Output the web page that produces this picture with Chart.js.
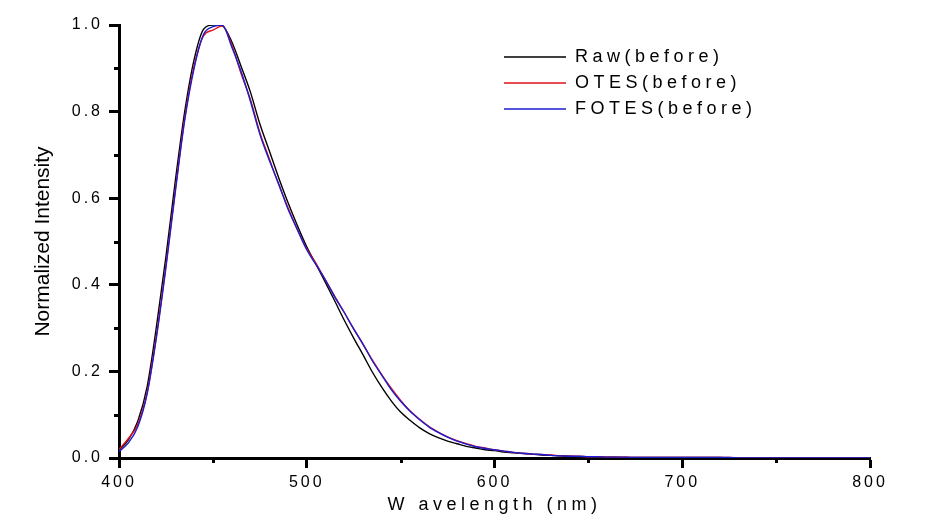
<!DOCTYPE html>
<html>
<head>
<meta charset="utf-8">
<script src="https://cdn.jsdelivr.net/npm/chart.js@4"></script>
<style>
  html, body { margin: 0; padding: 0; background: #fff; }
  #wrap { width: 928px; height: 532px; }
</style>
</head>
<body>
<div id="wrap"><canvas id="spectrum" width="928" height="532"></canvas></div>
<script>
// wavelength (nm)
const wavelengths = [400, 405, 410, 415, 420, 425, 430, 435, 440, 445, 450, 455, 460, 465, 470, 475, 480, 485, 490, 495,
    500, 505, 510, 515, 520, 525, 530, 535, 540, 545, 550, 555, 560, 565, 570, 575, 580, 585, 590, 595,
    600, 605, 610, 615, 620, 625, 630, 635, 640, 645, 650, 655, 660, 665, 670, 675, 680, 685, 690, 695,
    700, 705, 710, 715, 720, 725, 730, 735, 740, 745, 750, 755, 760, 765, 770, 775, 780, 785, 790, 795, 800];

// normalized intensity
const rawBefore = [0.018, 0.042, 0.085, 0.165, 0.305, 0.465, 0.640, 0.800, 0.920, 0.990, 1.000, 0.998, 0.962, 0.905, 0.845, 0.772, 0.710, 0.648, 0.590, 0.537,
    0.488, 0.447, 0.405, 0.362, 0.318, 0.277, 0.238, 0.198, 0.163, 0.132, 0.106, 0.087, 0.070, 0.057, 0.047, 0.039, 0.033, 0.027, 0.023, 0.019,
    0.017, 0.014, 0.012, 0.010, 0.009, 0.007, 0.006, 0.005, 0.004, 0.003, 0.003, 0.002, 0.002, 0.002, 0.001, 0.001, 0.001, 0.001, 0.001, 0.001,
    0.001, 0.001, 0.001, 0.001, 0.001, 0.000, 0.000, 0.000, 0.000, 0.000, 0.000, 0.000, 0.000, 0.000, 0.000, 0.000, 0.000, 0.000, 0.000, 0.000, 0.000];

const otesBefore = [0.020, 0.045, 0.078, 0.152, 0.285, 0.445, 0.620, 0.785, 0.905, 0.975, 0.988, 0.998, 0.955, 0.888, 0.828, 0.752, 0.692, 0.632, 0.578, 0.527,
    0.483, 0.449, 0.410, 0.373, 0.336, 0.298, 0.262, 0.226, 0.192, 0.161, 0.133, 0.109, 0.090, 0.073, 0.060, 0.049, 0.040, 0.033, 0.027, 0.023,
    0.019, 0.016, 0.013, 0.011, 0.009, 0.008, 0.007, 0.005, 0.004, 0.004, 0.003, 0.003, 0.002, 0.002, 0.002, 0.001, 0.001, 0.001, 0.001, 0.001,
    0.001, 0.001, 0.001, 0.001, 0.001, 0.001, 0.000, 0.000, 0.000, 0.000, 0.000, 0.000, 0.000, 0.000, 0.000, 0.000, 0.000, 0.000, 0.000, 0.000, 0.000];

const fotesBefore = [0.015, 0.035, 0.072, 0.148, 0.280, 0.440, 0.615, 0.780, 0.900, 0.978, 0.996, 1.000, 0.950, 0.893, 0.824, 0.748, 0.688, 0.634, 0.575, 0.528,
    0.481, 0.446, 0.411, 0.371, 0.336, 0.298, 0.263, 0.224, 0.191, 0.158, 0.131, 0.108, 0.089, 0.072, 0.059, 0.048, 0.039, 0.032, 0.026, 0.022,
    0.019, 0.016, 0.013, 0.011, 0.009, 0.008, 0.006, 0.005, 0.004, 0.004, 0.003, 0.003, 0.002, 0.002, 0.002, 0.001, 0.001, 0.001, 0.001, 0.001,
    0.001, 0.001, 0.001, 0.001, 0.001, 0.001, 0.000, 0.000, 0.000, 0.000, 0.000, 0.000, 0.000, 0.000, 0.000, 0.000, 0.000, 0.000, 0.000, 0.000, 0.000];

const seriesNames = ['Raw(before)', 'OTES(before)', 'FOTES(before)'];
const seriesColors = ['#000000', '#e0101a', '#1c1cd0'];
const seriesOrder = [3, 2, 1]; // FOTES drawn on top, Raw at the bottom

// unlabeled half-step ticks
const xMinorTicks = [450, 550, 650, 750];
const yMinorTicks = [0.1, 0.3, 0.5, 0.7, 0.9];

const FONT = '"Liberation Sans", Arial, sans-serif';

const toPoints = (ys) => wavelengths.map((x, i) => ({ x: x, y: ys[i] }));

// canvas letterSpacing, only around the pieces of text that need it
function spaced(obj, method, spacing) {
    if (obj[method].__spaced) return;
    const orig = obj[method];
    const fn = function () {
        const c = this.ctx;
        const prev = c.letterSpacing;
        c.letterSpacing = spacing;
        const r = orig.apply(this, arguments);
        c.letterSpacing = prev;
        return r;
    };
    fn.__spaced = true;
    obj[method] = fn;
}

const spacingPlugin = {
    id: 'spacing',
    beforeDraw(chart) {
        spaced(chart.scales.x, 'drawLabels', '3px');
        spaced(chart.scales.y, 'drawLabels', '3px');
        spaced(chart.scales.x, 'drawTitle', '4.5px');
        spaced(chart.legend, 'draw', '4.5px');
    }
};

// put the legend inside the plot, upper right
const legendPlacer = {
    id: 'legendPlacer',
    afterLayout(chart) {
        const lg = chart.legend;
        const w = lg.width, h = lg.height;
        lg.left = 496; lg.top = 40;
        // extra room: the spaced text is wider than what was measured
        lg.right = lg.left + w + 80; lg.bottom = lg.top + h;
    }
};

const minorTicks = {
    id: 'minorTicks',
    afterDraw(chart) {
        const ctx = chart.ctx;
        const area = chart.chartArea;
        const xs = chart.scales.x, ys = chart.scales.y;
        ctx.save();
        ctx.strokeStyle = '#000';
        ctx.lineWidth = 3;
        ctx.beginPath();
        yMinorTicks.forEach(v => {
            const py = Math.round(ys.getPixelForValue(v)) + 0.5;
            ctx.moveTo(area.left - 5, py);
            ctx.lineTo(area.left, py);
        });
        xMinorTicks.forEach(v => {
            const px = Math.round(xs.getPixelForValue(v)) + 0.5;
            ctx.moveTo(px, area.bottom);
            ctx.lineTo(px, area.bottom + 5);
        });
        ctx.stroke();
        ctx.restore();
    }
};

const ctx = document.getElementById('spectrum').getContext('2d');
const chart = new Chart(ctx, {
    type: 'line',
    data: {
        datasets: [rawBefore, otesBefore, fotesBefore].map((ys, i) => ({
            label: seriesNames[i],
            data: toPoints(ys),
            borderColor: seriesColors[i],
            backgroundColor: seriesColors[i],
            borderWidth: 1.4,
            pointRadius: 0,
            pointStyle: 'line',
            order: seriesOrder[i],
            cubicInterpolationMode: 'monotone',
            fill: false
        }))
    },
    options: {
        responsive: false,
        animation: false,
        devicePixelRatio: 1,
        layout: { padding: { left: 0, right: 58, top: 25, bottom: 0 } },
        plugins: {
            legend: {
                position: 'chartArea',
                align: 'start',
                labels: {
                    usePointStyle: true,
                    pointStyleWidth: 62,
                    color: '#000',
                    padding: 8,
                    font: { family: FONT, size: 18 },
                    sort: (a, b) => a.datasetIndex - b.datasetIndex
                }
            },
            tooltip: { enabled: false }
        },
        scales: {
            x: {
                type: 'linear',
                min: 400,
                max: 800,
                afterFit: (s) => { s.height = 74; },
                border: { display: true, width: 3, color: '#000' },
                grid: { display: true, drawOnChartArea: false, drawTicks: true, tickLength: 10, tickWidth: 3, tickColor: '#000' },
                ticks: {
                    stepSize: 100,
                    padding: 5,
                    color: '#000',
                    maxRotation: 0,
                    font: { family: FONT, size: 16 }
                },
                title: {
                    display: true,
                    text: 'W avelength (nm)',
                    color: '#000',
                    padding: { top: 0, bottom: 16 },
                    font: { family: FONT, size: 18 }
                }
            },
            y: {
                min: 0,
                max: 1.0,
                afterFit: (s) => { s.width = 119; },
                border: { display: true, width: 3, color: '#000' },
                grid: { display: true, drawOnChartArea: false, drawTicks: true, tickLength: 10, tickWidth: 3, tickColor: '#000' },
                ticks: {
                    stepSize: 0.2,
                    padding: 6,
                    color: '#000',
                    font: { family: FONT, size: 16 },
                    callback: (v) => v.toFixed(1)
                },
                title: {
                    display: true,
                    text: 'Normalized Intensity',
                    color: '#000',
                    padding: { top: 31, bottom: 0 },
                    font: { family: FONT, size: 21 }
                }
            }
        }
    },
    plugins: [spacingPlugin, legendPlacer, minorTicks]
});
</script>
</body>
</html>
